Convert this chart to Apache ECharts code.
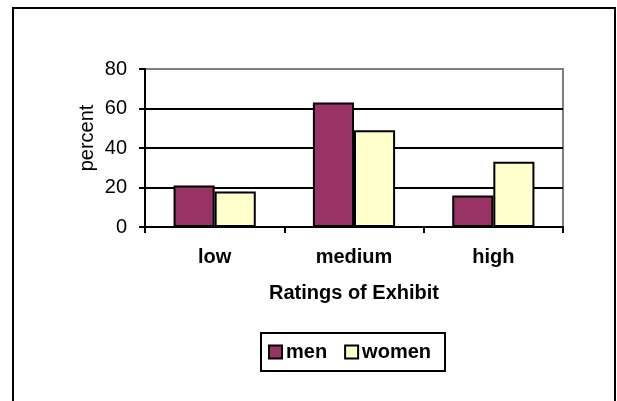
<!DOCTYPE html>
<html>
<head>
<meta charset="utf-8">
<script src="https://cdn.jsdelivr.net/npm/echarts@6/dist/echarts.min.js"></script>
<style>
html,body{margin:0;padding:0;background:#fff;}
#chart{width:617px;height:401px;}
</style>
</head>
<body>
<div id="chart"></div>
<script>
const categories = ['low', 'medium', 'high'];
const menValues = [21, 63, 16];
const womenValues = [18, 49, 33];
const yTicks = [0, 20, 40, 60, 80];
const seriesNames = ['men', 'women'];
const xTitle = 'Ratings of Exhibit';
const yTitle = 'percent';

const FONT = '"Liberation Sans", Arial, sans-serif';
const chart = echarts.init(document.getElementById('chart'), null, {renderer: 'canvas'});
chart.setOption({
  animation: false,
  backgroundColor: '#fff',
  graphic: [{
    type: 'rect',
    shape: {x: 13, y: 8, width: 602, height: 420},
    style: {fill: 'none', stroke: '#000', lineWidth: 2},
    z: 0
  }],
  grid: {
    left: 145, right: 54, top: 69, bottom: 174,
    show: true, borderColor: '#808080', borderWidth: 2, backgroundColor: 'transparent'
  },
  legend: {
    left: 261, top: 333,
    orient: 'horizontal',
    borderColor: '#000', borderWidth: 2,
    padding: [9, 14, 9, 7],
    itemWidth: 13, itemHeight: 13, itemGap: 17,
    icon: 'rect',
    textStyle: {fontFamily: FONT, fontSize: 20, fontWeight: 'bold', color: '#000', padding: [0, 0, 0, -1]},
    data: seriesNames
  },
  xAxis: {
    type: 'category',
    data: categories,
    name: xTitle,
    nameLocation: 'middle',
    nameGap: 56,
    nameMoveOverlap: false,
    nameTextStyle: {fontFamily: FONT, fontSize: 20, fontWeight: 'bold', color: '#000'},
    axisLine: {show: true, lineStyle: {color: '#000', width: 2}},
    axisTick: {show: true, length: 6, lineStyle: {color: '#000', width: 2}},
    axisLabel: {fontFamily: FONT, fontSize: 20, fontWeight: 'bold', color: '#000', margin: 20},
    splitLine: {show: false}
  },
  yAxis: {
    type: 'value',
    min: 0, max: 80, interval: 20,
    name: yTitle,
    nameLocation: 'middle',
    nameRotate: 90,
    nameGap: 48,
    nameMoveOverlap: false,
    nameTextStyle: {fontFamily: FONT, fontSize: 20, color: '#000', padding: [0, 0, 0, 20]},
    axisLine: {show: true, lineStyle: {color: '#000', width: 2}},
    axisTick: {show: true, length: 6, lineStyle: {color: '#000', width: 2}},
    axisLabel: {
      fontFamily: FONT, fontSize: 20, color: '#000', margin: 18,
      formatter: function (v) { return yTicks.indexOf(v) >= 0 ? String(v) : ''; }
    },
    splitLine: {show: true, showMaxLine: false, lineStyle: {color: '#000', width: 2}}
  },
  series: [
    {
      name: seriesNames[0], type: 'bar', data: menValues,
      barGap: '0%', barCategoryGap: '41%',
      itemStyle: {color: '#993366', borderColor: '#000', borderWidth: 2}
    },
    {
      name: seriesNames[1], type: 'bar', data: womenValues,
      barGap: '0%', barCategoryGap: '41%',
      itemStyle: {color: '#FFFFCC', borderColor: '#000', borderWidth: 2}
    }
  ]
});
</script>
</body>
</html>
